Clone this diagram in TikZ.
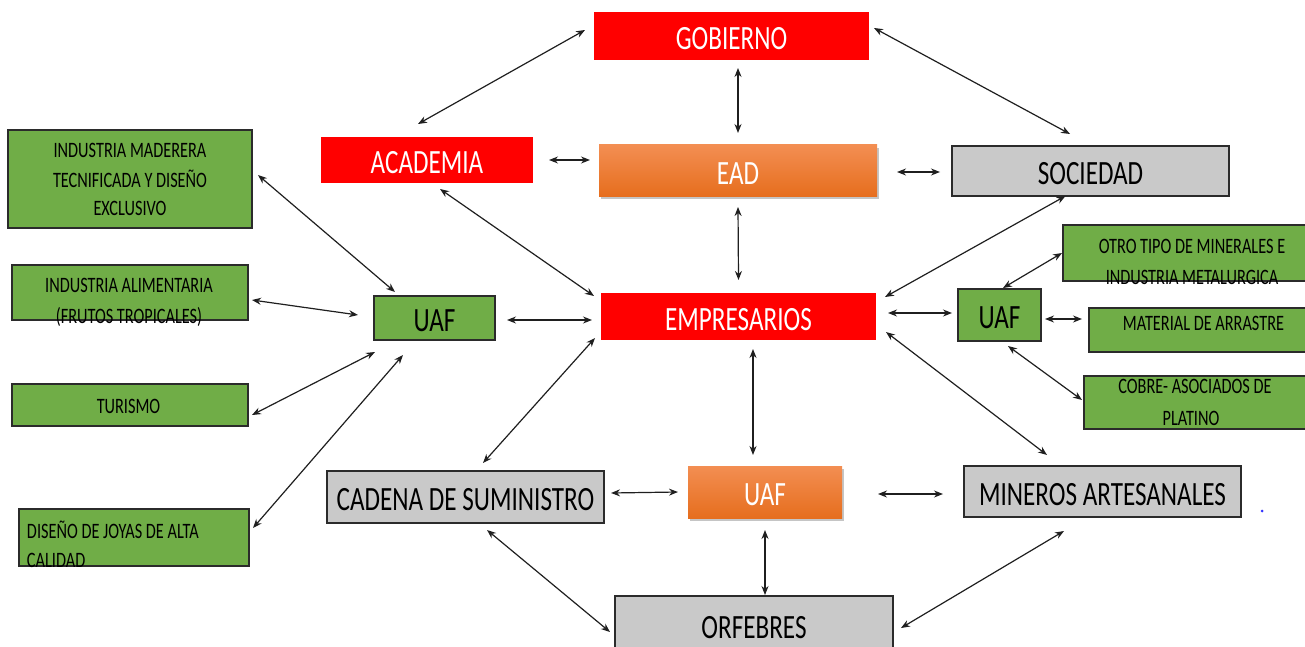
\documentclass[tikz,border=0pt]{standalone}
\usepackage{fontspec}
\setmainfont{Carlito}[FakeStretch=0.74]
\usetikzlibrary{arrows.meta,shadows}
\definecolor{redA}{HTML}{FF0000}
\definecolor{greenA}{HTML}{70AD47}
\definecolor{grayA}{HTML}{C9C9C9}
\definecolor{bordA}{HTML}{2B2B2B}
\definecolor{orTop}{RGB}{243,142,82}
\definecolor{orBot}{RGB}{230,110,30}
\newcommand{\bigfnt}{\fontsize{34}{40}\selectfont}
\newcommand{\smfnt}{\fontsize{22}{26}\selectfont}
\begin{document}
\begin{tikzpicture}[x=1pt,y=-1pt,
  box/.style={rectangle, inner sep=0pt, outer sep=0pt, anchor=center},
  bigtxt/.style={font=\bigfnt, text height=27pt, text depth=0pt},
  redbox/.style={box, bigtxt, fill=redA, text=white},
  orangebox/.style={box, bigtxt, top color=orTop, bottom color=orBot, text=white,
     drop shadow={shadow xshift=2pt, shadow yshift=-3pt, fill=black!45, opacity=.5}},
  graybox/.style={box, bigtxt, fill=grayA, draw=bordA, line width=1.4pt, text=black},
  greenbox/.style={box, fill=greenA, draw=bordA, line width=1.4pt, text=black},
  lbl/.style={anchor=base, inner sep=0pt, outer sep=0pt, font=\smfnt, text=black},
  arr/.style={{Stealth[length=9pt,width=7pt]}-{Stealth[length=9pt,width=7pt]}, line width=1.2pt, black!88}
]
\useasboundingbox (0,0) rectangle (1305,647);
\clip (0,0) rectangle (1305,647);

% main boxes
\node[redbox, minimum width=275pt, minimum height=48pt] (gob) at (731.5,36) {GOBIERNO};
\node[redbox, minimum width=212pt, minimum height=46pt] (acad) at (427,160) {ACADEMIA};
\node[orangebox, minimum width=278pt, minimum height=51pt] (ead) at (738,170.5) {EAD};
\node[graybox, minimum width=277pt, minimum height=50pt] (soc) at (1090.5,171) {SOCIEDAD};
\node[redbox, minimum width=275pt, minimum height=47pt] (emp) at (738.5,316.5) {EMPRESARIOS};
\node[greenbox, bigtxt, minimum width=121pt, minimum height=44pt] (uafl) at (434.5,318) {UAF};
\node[greenbox, bigtxt, minimum width=83pt, minimum height=52pt] (uafr) at (999.5,315) {UAF};
\node[orangebox, minimum width=154pt, minimum height=52pt] (uafc) at (765,492) {UAF};
\node[graybox, minimum width=277pt, minimum height=52pt] (cad) at (465.5,497) {CADENA DE SUMINISTRO};
\node[graybox, minimum width=277pt, minimum height=51pt] (min) at (1102.5,491.5) {MINEROS ARTESANALES};
\node[graybox, minimum width=278pt, minimum height=58pt] (orf) at (754,625) {ORFEBRES};

% left green boxes
\node[greenbox, minimum width=244pt, minimum height=98pt] (mad) at (130,179) {};
\node[lbl] (mad1) at (130,158) {INDUSTRIA MADERERA};
\node[lbl] (mad2) at (130,187) {TECNIFICADA Y DISEÑO};
\node[lbl] (mad3) at (130,215) {EXCLUSIVO};
\node[greenbox, minimum width=236pt, minimum height=55pt] (ali) at (130,292.5) {};
\node[lbl] (ali1) at (129,292) {INDUSTRIA ALIMENTARIA};
\node[lbl] (ali2) at (129,323) {(FRUTOS TROPICALES)};
\node[greenbox, minimum width=236pt, minimum height=42pt] (tur) at (130,405) {};
\node[lbl] (tur1) at (128.5,413) {TURISMO};
\node[greenbox, minimum width=230pt, minimum height=57pt] (joy) at (134,537.5) {};
\node[lbl, anchor=base west] (joy1) at (27,538) {DISEÑO DE JOYAS DE ALTA};
\node[lbl, anchor=base west] (joy2) at (27,567) {CALIDAD};

% right green boxes
\node[greenbox, minimum width=249pt, minimum height=56pt] (otro) at (1187.5,253) {};
\node[lbl] (otro1) at (1192,253) {OTRO TIPO DE MINERALES E};
\node[lbl] (otro2) at (1192,284) {INDUSTRIA METALURGICA};
\node[greenbox, minimum width=223pt, minimum height=44pt] (mat) at (1200.5,330) {};
\node[lbl] (mat1) at (1203.5,330) {MATERIAL DE ARRASTRE};
\node[greenbox, minimum width=228pt, minimum height=53pt] (cob) at (1198,402.5) {};
\node[lbl] (cob1) at (1195,393) {COBRE- ASOCIADOS DE};
\node[lbl] (cob2) at (1191,425) {PLATINO};

% blue dot
\fill[blue!80] (1262,511) circle (1.5pt);

% connectors
\draw[arr] ([shift={(-9,-6)}]gob.west) -- ([shift={(-9,-13)}]acad.north);
\draw[arr] ([shift={(6.5,8)}]gob.south) -- ([shift={(0,-12)}]ead.north);
\draw[arr] ([shift={(5,-8)}]gob.east) -- ([shift={(-20.5,-12)}]soc.north);
\draw[arr] ([shift={(16,0)}]acad.east) -- ([shift={(-9,-10.5)}]ead.west);
\draw[arr] ([shift={(20,1.5)}]ead.east) -- ([shift={(-12,1)}]soc.west);
\draw[arr] ([shift={(0,11)}]ead.south) -- ([shift={(0,-13)}]emp.north);
\draw[arr] ([shift={(13,6)}]acad.south) -- ([shift={(-7,3)}]emp.north west);
\draw[arr] ([shift={(-25,0)}]soc.south) -- ([shift={(9,4)}]emp.north east);
\draw[arr] ([shift={(12,2)}]uafl.east) -- ([shift={(-9,3.5)}]emp.west);
\draw[arr] ([shift={(12,-3.5)}]emp.east) -- ([shift={(-6,-2)}]uafr.west);
\draw[arr] ([shift={(14.5,9)}]emp.south) -- ([shift={(-12,-11)}]uafc.north);
\draw[arr] ([shift={(-6,-2)}]emp.south west) -- ([shift={(17.5,-8)}]cad.north);
\draw[arr] ([shift={(10,15.5)}]emp.east) -- ([shift={(83,-11)}]min.north west);
\draw[arr] ([shift={(7,-4)}]cad.east) -- ([shift={(-10,0)}]uafc.west);
\draw[arr] ([shift={(36,2)}]uafc.east) -- ([shift={(-21,2.5)}]min.west);
\draw[arr] ([shift={(21.5,7)}]cad.south) -- ([shift={(-5,7)}]orf.west);
\draw[arr] ([shift={(0,12)}]uafc.south) -- ([shift={(11,-1)}]orf.north);
\draw[arr] ([shift={(8,3)}]orf.east) -- ([shift={(-38.5,14)}]min.south);
% left cluster
\draw[arr] ([shift={(21,-4)}]uafl.north west) -- ([shift={(6,-4)}]mad.east);
\draw[arr] ([shift={(-16,-3)}]uafl.west) -- ([shift={(4,7.5)}]ali.east);
\draw[arr] ([shift={(1,12)}]uafl.south west) -- ([shift={(4,10)}]tur.east);
\draw[arr] ([shift={(-31.5,15)}]uafl.south) -- ([shift={(4,-9.5)}]joy.east);
% right cluster
\draw[arr] ([shift={(3.5,-1)}]uafr.north) -- ([shift={(-1,0)}]otro.west);
\draw[arr] ([shift={(4,4)}]uafr.east) -- ([shift={(-7,-11)}]mat.west);
\draw[arr] ([shift={(8.5,5)}]uafr.south) -- ([shift={(-2,-2.5)}]cob.west);
\end{tikzpicture}
\end{document}
